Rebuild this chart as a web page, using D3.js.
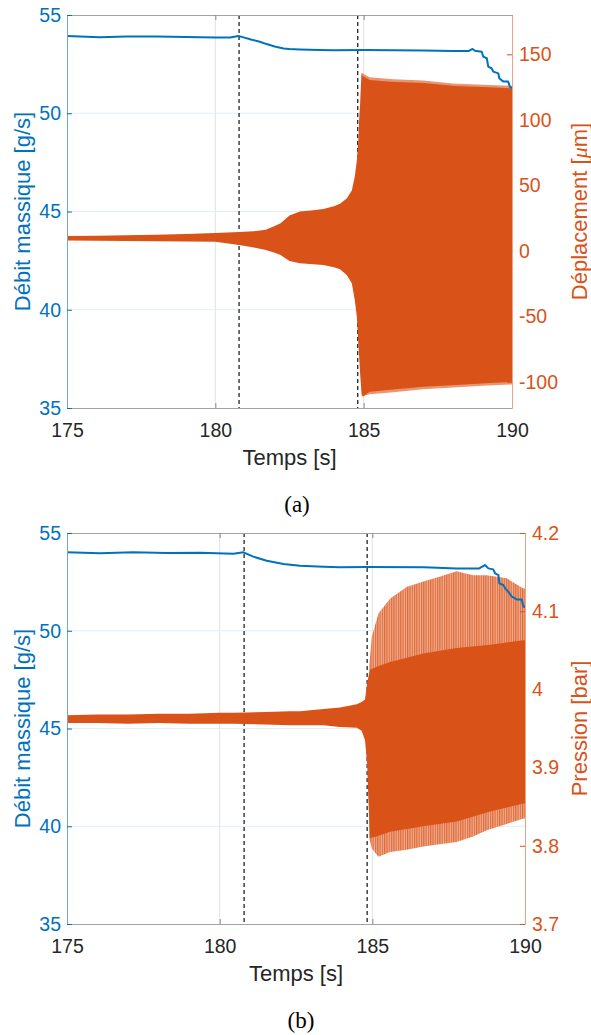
<!DOCTYPE html>
<html><head><meta charset="utf-8">
<script src="https://cdn.jsdelivr.net/npm/d3@7"></script>
<style>body{margin:0;background:#fff} svg{display:block}</style>
</head><body>
<svg id="chart" width="591" height="1035"></svg>
<script>
// ---------- data ----------
const timeTicks = [175, 180, 185, 190];
const flowTicks = [35, 40, 45, 50, 55];
const dispTicks = [-100, -50, 0, 50, 100, 150];
const presTicks = [3.7, 3.8, 3.9, 4, 4.1, 4.2];
const eventTimesA = [180.8, 184.8];
const eventTimesB = [180.8, 184.83];

// (a) mass flow
const flowTimeA = [175, 176.1, 177, 178, 179, 180, 180.5, 180.78, 180.95, 181.2, 181.5, 181.73, 182.0, 182.3, 182.5, 182.85, 183.5, 184, 185, 186, 187, 188, 188.55, 188.67, 188.75, 188.98, 189.03, 189.15, 189.2, 189.31, 189.37, 189.54, 189.57, 189.71, 189.87, 189.93, 190];
const flowA = [53.93, 53.87, 53.9, 53.9, 53.88, 53.85, 53.86, 53.93, 53.86, 53.75, 53.64, 53.52, 53.4, 53.3, 53.27, 53.25, 53.22, 53.2, 53.22, 53.21, 53.19, 53.17, 53.17, 53.27, 53.18, 53.13, 52.88, 52.8, 52.37, 52.29, 52.12, 52.03, 51.78, 51.61, 51.61, 51.35, 51.27];

// (a) displacement envelope (µm)
const dispTime = [175, 176, 177, 178, 179, 180, 180.8, 181.3, 181.7, 182.0, 182.2, 182.5, 182.85, 183.3, 183.64, 184.0, 184.2, 184.43, 184.6, 184.7, 184.77, 184.82, 184.85, 184.88, 184.9, 184.93, 184.97, 185.2, 185.9, 187, 188.1, 189.26, 190];
const dispHi = [11.3, 11.5, 11.8, 12.2, 12.8, 13.5, 14.4, 15, 16, 19, 21, 27, 30, 31, 32, 34, 36, 40, 46, 56.5, 69, 84.6, 102, 112, 123, 135.5, 133.4, 130.4, 129, 128, 125.8, 124.8, 124];
const dispLo = [7.8, 7.6, 7.4, 7.2, 7.1, 7, 4.4, 2.5, 0.6, -1.5, -3.2, -7.8, -9.5, -10.3, -10.8, -12.5, -14, -18.5, -24.8, -37.6, -50.3, -70.6, -82, -93.5, -100, -108.8, -111.4, -107.5, -106, -103.7, -102.4, -101, -100];
const dispPeakTime = [184.93, 185.2, 186, 187, 188, 189, 190];
const dispPeakHi = [136, 132.5, 131, 130, 127.8, 126.8, 126];
const dispPeakLo = [-111, -109.5, -108, -105.7, -104.4, -103, -102];

// (b) mass flow
const flowTimeB = [175, 176.08, 177.17, 178.27, 179.36, 180.45, 180.78, 181.1, 181.54, 182.09, 182.63, 183.4, 183.94, 184.82, 186.7, 187.76, 188.5, 188.69, 188.8, 188.96, 189.02, 189.13, 189.16, 189.29, 189.35, 189.45, 189.57, 189.67, 189.73, 189.89, 189.95, 190];
const flowB = [54.01, 53.96, 54.01, 53.98, 53.99, 53.94, 54.01, 53.79, 53.58, 53.41, 53.33, 53.28, 53.25, 53.26, 53.25, 53.19, 53.19, 53.36, 53.19, 53.14, 52.94, 52.85, 52.42, 52.34, 52.17, 52.0, 51.74, 51.66, 51.6, 51.6, 51.23, 51.23];

// (b) pressure envelope (bar)
const presTime = [175, 176, 177, 178, 179, 180, 180.45, 181.5, 182.3, 182.63, 183.4, 183.94, 184.49, 184.65, 184.76, 184.83, 184.87, 184.92, 185.14, 185.58, 186.67, 187.76, 188.86, 189.95, 190];
const presHi = [3.967, 3.968, 3.968, 3.969, 3.969, 3.970, 3.970, 3.971, 3.972, 3.972, 3.975, 3.977, 3.981, 3.984, 3.987, 4.008, 4.016, 4.025, 4.029, 4.035, 4.046, 4.053, 4.057, 4.063, 4.063];
const presLo = [3.957, 3.957, 3.956, 3.957, 3.956, 3.956, 3.956, 3.955, 3.954, 3.954, 3.954, 3.952, 3.951, 3.947, 3.935, 3.905, 3.86, 3.81, 3.812, 3.818, 3.825, 3.831, 3.844, 3.854, 3.854];
const presPeakTime = [184.9, 184.98, 185.2, 185.58, 186.12, 186.67, 187.2, 187.76, 188.3, 188.75, 189.4, 189.95, 190];
const presPeakHi = [4.03, 4.067, 4.097, 4.116, 4.131, 4.138, 4.144, 4.151, 4.146, 4.146, 4.142, 4.129, 4.129];
const presPeakLo = [3.81, 3.797, 3.786, 3.792, 3.795, 3.799, 3.802, 3.805, 3.812, 3.82, 3.828, 3.835, 3.835];

// ---------- drawing ----------
const BLUE = "#0072BD", ORANGE = "#D95319";
const FONT = "'Liberation Sans', Arial, Helvetica, sans-serif";
const TICK = "19.5px";
const svg = d3.select("#chart");
const defs = svg.append("defs");
const pat = defs.append("pattern").attr("id", "spikes")
  .attr("patternUnits", "userSpaceOnUse").attr("width", 2.3).attr("height", 10);
pat.append("rect").attr("width", 2.3).attr("height", 10).attr("fill", "#efae8e");
pat.append("rect").attr("width", 1.2).attr("height", 10).attr("fill", "#e06b3b");

function zip(t, a, b) { return t.map((d, i) => ({ t: d, hi: a[i], lo: b[i] })); }
const hyph = f => d => f(d).replace("\u2212", "-");

function panel(o) {
  const g = svg.append("g");
  const x = d3.scaleLinear().domain([175, 190]).range([o.left, o.right]);
  const yL = d3.scaleLinear().domain([35, 55]).range([o.bottom, o.top]);
  const yR = d3.scaleLinear().domain(o.rDomain).range([o.bottom, o.top]);

  const clipId = "clip" + o.id;
  defs.append("clipPath").attr("id", clipId).append("rect")
    .attr("x", o.left).attr("y", o.top).attr("width", o.right - o.left).attr("height", o.bottom - o.top);

  // grid
  g.selectAll(".vg").data(timeTicks.slice(1, -1)).join("line")
    .attr("x1", d => x(d)).attr("x2", d => x(d)).attr("y1", o.top).attr("y2", o.bottom)
    .attr("stroke", "#e2e2e2").attr("stroke-width", 1);
  g.selectAll(".hg").data(flowTicks.slice(1, -1)).join("line")
    .attr("x1", o.left).attr("x2", o.right).attr("y1", d => yL(d)).attr("y2", d => yL(d))
    .attr("stroke", "#e3eef8").attr("stroke-width", 1);

  // event lines
  g.selectAll(".ev").data(o.events).join("line")
    .attr("x1", d => x(d)).attr("x2", d => x(d)).attr("y1", o.top).attr("y2", o.bottom)
    .attr("stroke", "#111").attr("stroke-width", 1.2).attr("stroke-dasharray", "4,3");

  const dg = g.append("g").attr("clip-path", `url(#${clipId})`);
  const area = d3.area().x(d => x(d.t)).y0(d => yR(d.lo)).y1(d => yR(d.hi));
  dg.append("path").datum(zip(o.peakT, o.peakHi, o.peakLo)).attr("d", area).attr("fill", o.peakFill);
  dg.append("path").datum(zip(o.rT, o.rHi, o.rLo)).attr("d", area).attr("fill", ORANGE);

  const line = d3.line().x((d, i) => x(o.flowT[i])).y(d => yL(d));
  dg.append("path").datum(o.flow).attr("d", line).attr("fill", "none")
    .attr("stroke", BLUE).attr("stroke-width", 2).attr("stroke-linejoin", "round");

  // axes
  const axB = g.append("g").attr("transform", `translate(0,${o.bottom})`)
    .call(d3.axisBottom(x).tickValues(timeTicks).tickSizeInner(-5).tickSizeOuter(0).tickPadding(15));
  axB.select(".domain").attr("stroke", "#a3a3a3");
  axB.selectAll(".tick line").attr("stroke", "#8a8a8a");
  axB.selectAll("text").attr("fill", "#262626").style("font", `${TICK} ${FONT}`);

  const axT = g.append("g").attr("transform", `translate(0,${o.top})`)
    .call(d3.axisTop(x).tickValues(timeTicks).tickSizeInner(-5).tickSizeOuter(0).tickFormat(""));
  axT.select(".domain").attr("stroke", "#a3a3a3");
  axT.selectAll(".tick line").attr("stroke", "#8a8a8a");

  const axL = g.append("g").attr("transform", `translate(${o.left},0)`)
    .call(d3.axisLeft(yL).tickValues(flowTicks).tickSizeInner(-5).tickSizeOuter(0).tickPadding(6));
  axL.select(".domain").attr("stroke", "#6fa8d8");
  axL.selectAll(".tick line").attr("stroke", BLUE);
  axL.selectAll("text").attr("fill", BLUE).style("font", `${TICK} ${FONT}`);

  const axR = g.append("g").attr("transform", `translate(${o.right},0)`)
    .call(d3.axisRight(yR).tickValues(o.rTicks).tickSizeInner(-5).tickSizeOuter(0).tickPadding(7)
      .tickFormat(o.rFormat));
  axR.select(".domain").attr("stroke", "#eda283");
  axR.selectAll(".tick line").attr("stroke", ORANGE);
  axR.selectAll("text").attr("fill", ORANGE).style("font", `${TICK} ${FONT}`);

  const cy = (o.top + o.bottom) / 2;
  g.append("text").attr("transform", `translate(30,${cy}) rotate(-90)`)
    .attr("text-anchor", "middle").attr("fill", BLUE).style("font", `22px ${FONT}`)
    .text("Débit massique [g/s]");
  const rl = g.append("text").attr("transform", `translate(587,${cy}) rotate(-90)`)
    .attr("text-anchor", "middle").attr("fill", ORANGE).style("font", `22px ${FONT}`);
  rl.append("tspan").text(o.rLabel[0]);
  if (o.rLabel[1]) {
    rl.append("tspan").style("font-family", "'Liberation Serif', 'Times New Roman', serif")
      .style("font-style", "italic").text(o.rLabel[1]);
    rl.append("tspan").text(o.rLabel[2]);
  }
  g.append("text").attr("x", (o.left + o.right) / 2).attr("y", o.bottom + 57)
    .attr("text-anchor", "middle").attr("fill", "#262626").style("font", `22px ${FONT}`)
    .text("Temps [s]");
  g.append("text").attr("x", o.capX).attr("y", o.bottom + 103.5)
    .attr("text-anchor", "middle").attr("fill", "#000")
    .style("font", "23px 'Liberation Serif', 'Times New Roman', serif").text(o.caption);
}

panel({
  id: "a", left: 67, right: 512, top: 15, bottom: 408,
  rDomain: [-120, 180], rTicks: dispTicks, rFormat: hyph(d3.format("d")),
  events: eventTimesA,
  rT: dispTime, rHi: dispHi, rLo: dispLo,
  peakT: dispPeakTime, peakHi: dispPeakHi, peakLo: dispPeakLo, peakFill: "#eb9470",
  flowT: flowTimeA, flow: flowA,
  rLabel: ["Déplacement [", "μ", "m]"], caption: "(a)", capX: 297
});

panel({
  id: "b", left: 67, right: 525, top: 533, bottom: 924,
  rDomain: [3.7, 4.2], rTicks: presTicks, rFormat: d => String(+d.toFixed(1)),
  events: eventTimesB,
  rT: presTime, rHi: presHi, rLo: presLo,
  peakT: presPeakTime, peakHi: presPeakHi, peakLo: presPeakLo, peakFill: "url(#spikes)",
  flowT: flowTimeB, flow: flowB,
  rLabel: ["Pression [bar]"], caption: "(b)", capX: 301
});
</script>
</body></html>
